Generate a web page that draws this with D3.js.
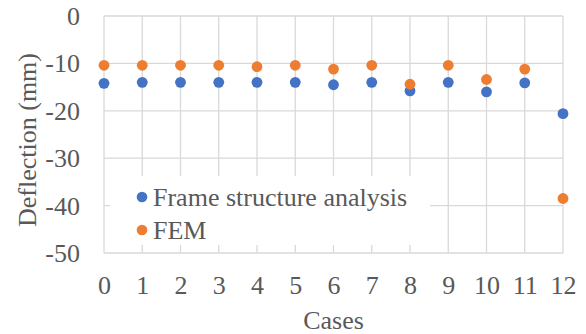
<!DOCTYPE html>
<html>
<head>
<meta charset="utf-8">
<script src="https://cdn.jsdelivr.net/npm/d3@7"></script>
<style>
  html, body { margin: 0; padding: 0; background: #fff; }
  svg { display: block; }
  svg text { font-family: "Liberation Serif", "Times New Roman", Times, serif; }
</style>
</head>
<body>
<svg id="chart" width="586" height="334"></svg>
<script>
// Deflection per load case, two methods
const cases = [0, 1, 2, 3, 4, 5, 6, 7, 8, 9, 10, 11, 12];
const frameAnalysis = [-14.2, -14.0, -14.0, -14.0, -14.0, -14.0, -14.5, -14.0, -15.8, -14.0, -16.0, -14.1, -20.6];
const fem = [-10.4, -10.4, -10.4, -10.4, -10.7, -10.4, -11.2, -10.4, -14.4, -10.4, -13.4, -11.2, -38.5];
const yTicks = [0, -10, -20, -30, -40, -50];
const seriesNames = ["Frame structure analysis", "FEM"];
const seriesColors = ["#4472C4", "#ED7D31"];

const svg = d3.select("#chart");
const font = '"Liberation Serif", "Times New Roman", Times, serif';
const textColor = "#595959";
const gridColor = "#d9d9d9";

const plot = { left: 104, right: 563, top: 16, bottom: 253 };

const x = d3.scaleLinear().domain([0, 12]).range([plot.left, plot.right]);
const y = d3.scaleLinear().domain([0, -50]).range([plot.top, plot.bottom]);

// Gridlines
const g = svg.append("g");
g.selectAll("line.v").data(cases).join("line")
  .attr("x1", d => x(d)).attr("x2", d => x(d))
  .attr("y1", plot.top).attr("y2", plot.bottom)
  .attr("stroke", gridColor).attr("stroke-width", 1.3);
g.selectAll("line.h").data(yTicks).join("line")
  .attr("x1", plot.left).attr("x2", plot.right)
  .attr("y1", d => y(d)).attr("y2", d => y(d))
  .attr("stroke", gridColor).attr("stroke-width", 1.3);

// Y axis labels
const yAxis = d3.axisLeft(y).tickValues(yTicks).tickSize(0).tickPadding(0)
  .tickFormat(d => String(d));
const ya = svg.append("g").attr("transform", `translate(80,0)`).call(yAxis)
  .attr("font-family", null);
ya.select(".domain").remove();
ya.selectAll("text").style("font-family", font).attr("font-size", 26)
  .attr("fill", textColor).attr("dy", "0.33em");

// X axis labels
const xAxis = d3.axisBottom(x).tickValues(cases).tickSize(0).tickPadding(0);
const xa = svg.append("g").attr("transform", `translate(0,294)`).call(xAxis)
  .attr("font-family", null);
xa.select(".domain").remove();
xa.selectAll("text").style("font-family", font).attr("font-size", 26)
  .attr("fill", textColor).attr("dy", 0);

// Axis titles
svg.append("text").attr("x", (plot.left + plot.right) / 2).attr("y", 329)
  .attr("text-anchor", "middle").style("font-family", font).attr("font-size", 26)
  .attr("fill", textColor).text("Cases");
svg.append("text")
  .attr("transform", `translate(36,140) rotate(-90)`)
  .attr("text-anchor", "middle").style("font-family", font).attr("font-size", 26)
  .attr("fill", textColor).text("Deflection (mm)");

// Data points
const series = [frameAnalysis, fem];
series.forEach((vals, i) => {
  svg.append("g").selectAll("circle").data(vals).join("circle")
    .attr("cx", (d, j) => x(cases[j]))
    .attr("cy", d => y(d))
    .attr("r", 5.4)
    .attr("fill", seriesColors[i]);
});

// Legend
const legend = svg.append("g");
legend.append("rect").attr("x", 110).attr("y", 176).attr("width", 320).attr("height", 69)
  .attr("fill", "#fff");
seriesNames.forEach((name, i) => {
  const cy = 197 + i * 33;
  legend.append("circle").attr("cx", 142).attr("cy", cy).attr("r", 5.3)
    .attr("fill", seriesColors[i]);
  legend.append("text").attr("x", 153).attr("y", cy + 9)
    .style("font-family", font).attr("font-size", 26).attr("fill", textColor)
    .text(name);
});
</script>
</body>
</html>
